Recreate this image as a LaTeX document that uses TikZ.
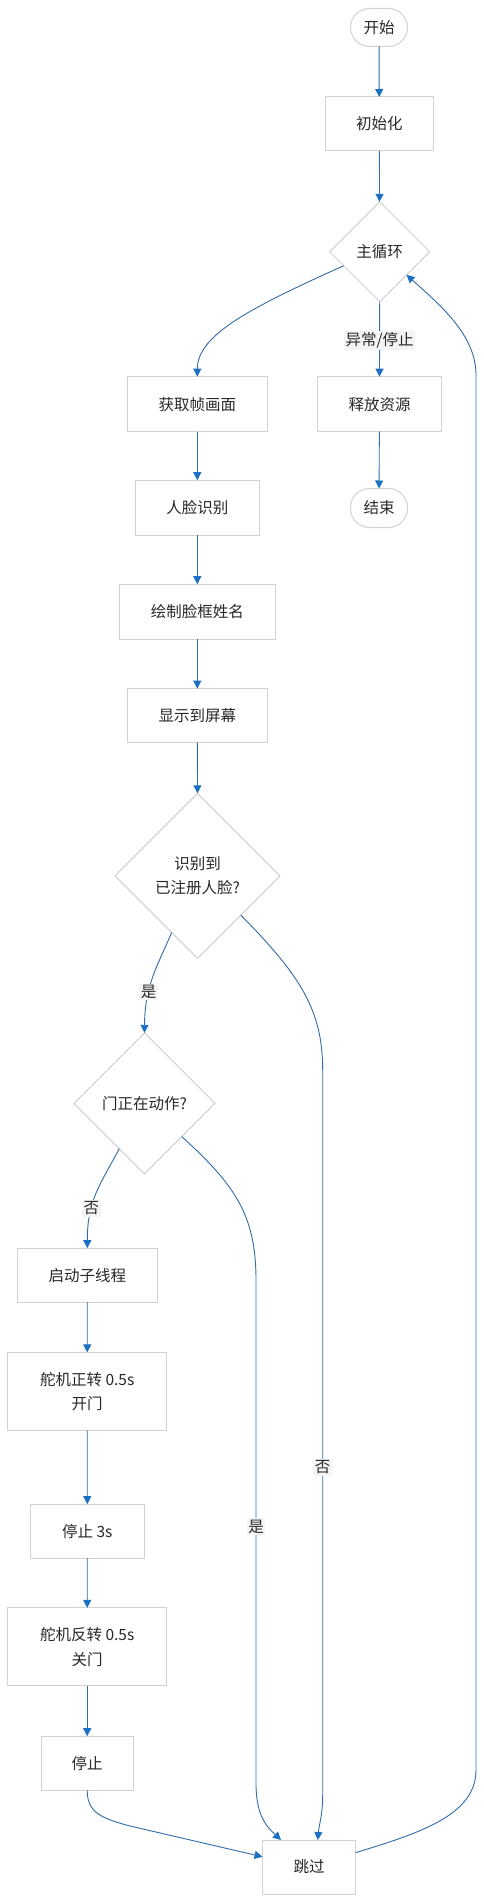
\documentclass[tikz,border=0pt]{standalone}
\usepackage{fontspec}
\newfontfamily\cjk{Noto Sans CJK SC}
\usetikzlibrary{shapes.geometric,arrows.meta,calc}
\definecolor{edgec}{RGB}{48,108,168}
\definecolor{arrowc}{RGB}{28,112,196}
\definecolor{boxc}{RGB}{210,210,210}
\definecolor{txtc}{RGB}{40,40,40}
\definecolor{lblbg}{RGB}{244,244,244}
\begin{document}
\begin{tikzpicture}[x=1pt,y=-1pt,
  base/.style={draw=boxc,line width=1pt,fill=white,text=txtc,inner sep=0pt,outer sep=0pt,
    font=\cjk\fontsize{15.5}{24.5}\selectfont,align=center},
  stepbox/.style={base,rectangle,minimum width=#1},
  termbox/.style={base,rectangle,rounded corners=19pt,minimum width=57pt,minimum height=38pt},
  decbox/.style={base,diamond,minimum width=#1,minimum height=#1},
  flow/.style={draw=edgec,line width=0.9pt,-{Triangle[length=8pt,width=8pt,color=arrowc,fill=arrowc]}},
  lbl/.style={fill=lblbg,text=txtc,inner sep=1.5pt,font=\cjk\fontsize{15.5}{18}\selectfont}
]
\useasboundingbox (0,0) rectangle (484,1902);
\fill[white] (0,0) rectangle (484,1902);

\node[termbox] (start) at (379,27.5) {开始};
\node[stepbox=108pt,minimum height=54pt] (init) at (379.3,124) {初始化};
\node[decbox=100pt] (loop) at (379.7,251.7) {主循环};
\node[stepbox=140pt,minimum height=55pt] (grab) at (197.3,404.2) {获取帧画面};
\node[stepbox=124pt,minimum height=55pt] (release) at (379.5,404.2) {释放资源};
\node[stepbox=124pt,minimum height=55pt] (face) at (197.3,507.7) {人脸识别};
\node[termbox,minimum height=39pt] (end) at (379,508) {结束};
\node[stepbox=156pt,minimum height=55pt] (drawbox) at (197.3,611.7) {绘制脸框姓名};
\node[stepbox=140pt,minimum height=54pt] (show) at (197.3,715.7) {显示到屏幕};
\node[decbox=165pt] (decA) at (197.5,875.8) {识别到\\已注册人脸?};
\node[decbox=141pt] (decB) at (144.5,1103.3) {门正在动作?};
\node[stepbox=140pt,minimum height=54pt] (thread) at (87.3,1275.2) {启动子线程};
\node[stepbox=159pt,minimum height=78pt] (fwd) at (87.2,1391.4) {舵机正转 0.5s\\开门};
\node[stepbox=114pt,minimum height=54pt] (wait) at (87.3,1531.2) {停止 3s};
\node[stepbox=159pt,minimum height=78pt] (rev) at (87.2,1646.9) {舵机反转 0.5s\\关门};
\node[stepbox=92pt,minimum height=54pt] (stop) at (87.2,1763.2) {停止};
\node[stepbox=93pt,minimum height=54pt] (skip) at (309,1867) {跳过};

\coordinate (loopL) at ($(loop.west)!0.28!(loop.south)$);
\coordinate (loopR) at ($(loop.east)!0.463!(loop.south)$);
\coordinate (decAL) at ($(decA.west)!0.687!(decA.south)$);
\coordinate (decAR) at ($(decA.east)!0.476!(decA.south)$);
\coordinate (decBL) at ($(decB.west)!0.643!(decB.south)$);
\coordinate (decBR) at ($(decB.east)!0.472!(decB.south)$);
\coordinate (skipW) at ($(skip.north west)!0.31!(skip.south west)$);
\coordinate (skipE) at ($(skip.north east)!0.235!(skip.south east)$);
\coordinate (skipNa) at (281,1840);
\coordinate (skipNb) at (317.7,1840);

\draw[flow] (start) -- (init);
\draw[flow] (init) -- (loop);
\draw[flow] (loopL) .. controls (250,308) and (197.3,335) .. (grab.north);
\draw[flow] (loop.south) -- node[lbl,pos=0.52] {异常/停止} (release.north);
\draw[flow] (release) -- (end);
\draw[flow] (grab) -- (face);
\draw[flow] (face) -- (drawbox);
\draw[flow] (drawbox) -- (show);
\draw[flow] (show) -- (decA.north);
\draw[flow] (decAL) .. controls (158,965) and (144.7,985) .. node[lbl,pos=0.66] {是} (decB.north);
\draw[flow] (decBL) .. controls (100,1185) and (87.3,1200) .. node[lbl,pos=0.66] {否} (thread.north);
\draw[flow] (thread) -- (fwd);
\draw[flow] (fwd) -- (wait);
\draw[flow] (wait) -- (rev);
\draw[flow] (rev) -- (stop);
\draw[flow] (stop.south) .. controls (87.3,1812) and (100,1818) .. (130,1826) -- (skipW);
\draw[flow] (decBR) .. controls (235,1185) and (256,1215) .. (256,1280)
  -- node[lbl,pos=0.49] {是} (256,1783) .. controls (256,1815) and (266,1826) .. (skipNa);
\draw[flow] (decAR) .. controls (300,975) and (322.7,1010) .. (322.7,1070)
  -- node[lbl,pos=0.548] {否} (322.7,1795) .. controls (322.7,1815) and (319,1825) .. (skipNb);
\draw[flow] (skipE) .. controls (420,1833) and (476,1815) .. (476,1770)
  -- (476,375) .. controls (476,335) and (440,305) .. (loopR);
\end{tikzpicture}
\end{document}
